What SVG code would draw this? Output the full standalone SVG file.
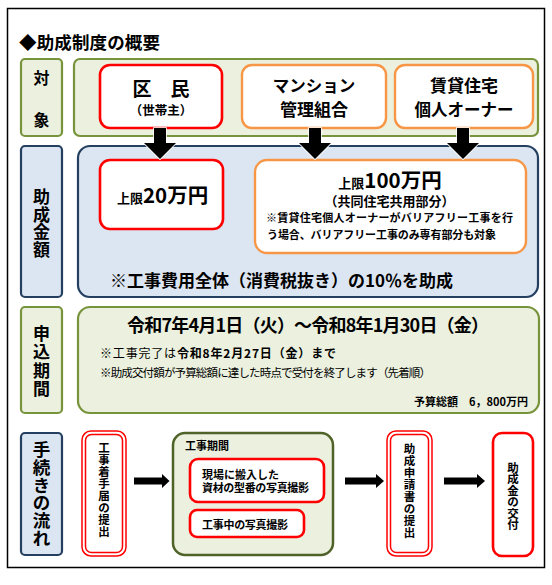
<svg xmlns="http://www.w3.org/2000/svg" width="552" height="585" viewBox="0 0 552 585">
<style>
text{font-family:"Noto Sans CJK JP","Noto Sans CJK SC",sans-serif;font-weight:bold;fill:#000}
.n{font-weight:normal}
.g{fill:#EBF1DE;stroke:#77933C;stroke-width:2.2}
.gd{fill:#EBF1DE;stroke:#4F6228;stroke-width:2.5}
.b{fill:#DCE6F2;stroke:#243F60;stroke-width:2.2}
.r{fill:#fff;stroke:#FF0000;stroke-width:2.6}
.r2{fill:none;stroke:#FF0000;stroke-width:1.5}
.o{fill:#fff;stroke:#F79646;stroke-width:2.4}
.arr{fill:#000;stroke:#fff;stroke-width:1.6;paint-order:stroke}
.mid{text-anchor:middle}
</style>
<rect x="0" y="0" width="552" height="585" fill="#fff"/>
<rect x="7.5" y="8.5" width="537" height="559" fill="none" stroke="#000" stroke-width="1.5"/>
<text x="19" y="49" font-size="17.5" textLength="141">◆助成制度の概要</text>

<g id="label-taisho">
<rect class="g" x="21" y="59" width="41" height="77" rx="4"/>
<text class="mid" font-size="16" x="41.5" y="84">対</text>
<text class="mid" font-size="16" x="41.5" y="126">象</text>
</g>
<g id="taisho-panel"><rect class="g" x="74" y="59" width="464" height="77" rx="6"/></g>
<g id="kumin">
<rect class="r" x="100" y="65" width="122" height="63" rx="10"/>
<text class="mid" font-size="19" x="161" y="96">区　民</text>
<text class="mid" font-size="12.5" x="161" y="115">（世帯主）</text>
</g>
<g id="mansion">
<rect class="o" x="242" y="65" width="144" height="63" rx="10"/>
<text class="mid" font-size="16.5" x="314" y="92">マンション</text>
<text class="mid" font-size="17" x="314" y="115.5">管理組合</text>
</g>
<g id="chintai">
<rect class="o" x="395" y="65" width="138" height="63" rx="10"/>
<text class="mid" font-size="17" x="464" y="92">賃貸住宅</text>
<text class="mid" font-size="16.5" x="464" y="115.5">個人オーナー</text>
</g>

<g id="label-kingaku">
<rect class="b" x="21" y="146" width="41" height="151" rx="4"/>
<text class="mid" font-size="17" x="41.5" y="203">助</text>
<text class="mid" font-size="17" x="41.5" y="220.5">成</text>
<text class="mid" font-size="17" x="41.5" y="238">金</text>
<text class="mid" font-size="17" x="41.5" y="255.5">額</text>
</g>
<g id="kingaku-panel">
<rect class="b" x="78" y="146" width="460" height="151" rx="12"/>
<text x="110" y="287" font-size="17" textLength="343">※工事費用全体（消費税抜き）の10％を助成</text>
</g>
<g id="limit20">
<rect class="r" x="100" y="160" width="123" height="69" rx="10"/>
<text x="117" y="203"><tspan font-size="13">上限</tspan><tspan font-size="20.5">20万円</tspan></text>
</g>
<g id="limit100">
<rect class="o" x="255" y="160" width="271" height="93" rx="12"/>
<text class="mid" x="390" y="188"><tspan font-size="13">上限</tspan><tspan font-size="20.5">100万円</tspan></text>
<text class="mid" font-size="13" x="389.5" y="206">（共同住宅共用部分）</text>
<text x="266" y="222" font-size="11" textLength="247">※賃貸住宅個人オーナーがバリアフリー工事を行</text>
<text x="267" y="238.5" font-size="11" textLength="229">う場合、バリアフリー工事のみ専有部分も対象</text>
</g>

<g id="label-kikan">
<rect class="g" x="21" y="307" width="41" height="106" rx="4"/>
<text class="mid" font-size="17" x="41.5" y="339.5">申</text>
<text class="mid" font-size="17" x="41.5" y="358">込</text>
<text class="mid" font-size="17" x="41.5" y="376.5">期</text>
<text class="mid" font-size="17" x="41.5" y="395">間</text>
</g>
<g id="kikan-panel">
<rect class="g" x="78" y="307" width="461" height="106" rx="12"/>
<text x="127" y="332" font-size="18" textLength="362">令和7年4月1日（火）～令和8年1月30日（金）</text>
<text x="100" y="358" font-size="12" textLength="236"><tspan class="n">※工事完了は</tspan>令和8年2月27日（金）まで</text>
<text class="n" x="100" y="377" font-size="11.5" textLength="331">※助成交付額が予算総額に達した時点で受付を終了します（先着順）</text>
<text x="528" y="406" font-size="11" text-anchor="end">予算総額　6，800万円</text>
</g>

<g id="label-nagare">
<rect class="b" x="21" y="433" width="41" height="122" rx="4"/>
<text class="mid" font-size="17.5" x="41.5" y="456">手</text>
<text class="mid" font-size="17.5" x="41.5" y="474">続</text>
<text class="mid" font-size="17.5" x="41.5" y="491.5">き</text>
<text class="mid" font-size="17.5" x="41.5" y="509">の</text>
<text class="mid" font-size="17.5" x="41.5" y="527">流</text>
<text class="mid" font-size="17.5" x="41.5" y="545">れ</text>
</g>
<g id="chakushu">
<rect x="82" y="431" width="44" height="125" rx="9" fill="#fff" class="r2"/>
<rect class="r2" x="85.5" y="434.5" width="37" height="118" rx="6"/>
<g font-size="11.5">
<text class="mid" x="104" y="451.5">工</text>
<text class="mid" x="104" y="463.5">事</text>
<text class="mid" x="104" y="475.5">着</text>
<text class="mid" x="104" y="487.5">手</text>
<text class="mid" x="104" y="499.5">届</text>
<text class="mid" x="104" y="511.5">の</text>
<text class="mid" x="104" y="523.5">提</text>
<text class="mid" x="104" y="535.5">出</text>
</g>
</g>
<g id="koji-kikan">
<rect class="gd" x="173" y="433" width="160" height="122" rx="12"/>
<text x="185" y="450" font-size="11">工事期間</text>
</g>
<g id="hannyu">
<rect class="r" x="190" y="459" width="134" height="43" rx="8"/>
<text x="202" y="478.5" font-size="11">現場に搬入した</text>
<text x="202" y="492" font-size="11" textLength="107">資材の型番の写真撮影</text>
</g>
<g id="kojichu">
<rect class="r" x="190" y="510" width="114" height="27" rx="7"/>
<text x="202" y="528.5" font-size="11" textLength="86">工事中の写真撮影</text>
</g>
<g id="shinsei">
<rect x="387" y="431" width="45" height="125" rx="9" fill="#fff" class="r2"/>
<rect class="r2" x="390.5" y="434.5" width="38" height="118" rx="6"/>
<g font-size="11.5">
<text class="mid" x="409.5" y="452.5">助</text>
<text class="mid" x="409.5" y="464.5">成</text>
<text class="mid" x="409.5" y="476.5">申</text>
<text class="mid" x="409.5" y="488.5">請</text>
<text class="mid" x="409.5" y="500.5">書</text>
<text class="mid" x="409.5" y="512.5">の</text>
<text class="mid" x="409.5" y="524.5">提</text>
<text class="mid" x="409.5" y="536.5">出</text>
</g>
</g>
<g id="kofu">
<rect class="r" x="493" y="433" width="40" height="123" rx="9"/>
<g font-size="11.5">
<text class="mid" x="513" y="471.5">助</text>
<text class="mid" x="513" y="483">成</text>
<text class="mid" x="513" y="494.5">金</text>
<text class="mid" x="513" y="506">の</text>
<text class="mid" x="513" y="517.5">交</text>
<text class="mid" x="513" y="529">付</text>
</g>
</g>

<g id="connectors">
<path class="arr" d="M154,128 V143 H144 L160,159 L176,143 H166 V128 Z"/>
<path class="arr" d="M309,128 V143 H299 L315,159 L331,143 H321 V128 Z"/>
<path class="arr" d="M457,128 V143 H447 L463,159 L479,143 H469 V128 Z"/>
<path fill="#000" d="M134,477.5 H162 V474 L169.5,481 L162,488 V484.5 H134 Z"/>
<path fill="#000" d="M345,477.5 H376 V474 L384,481 L376,488 V484.5 H345 Z"/>
<path fill="#000" d="M444,477.5 H477 V474 L485,481 L477,488 V484.5 H444 Z"/>
</g>
</svg>
